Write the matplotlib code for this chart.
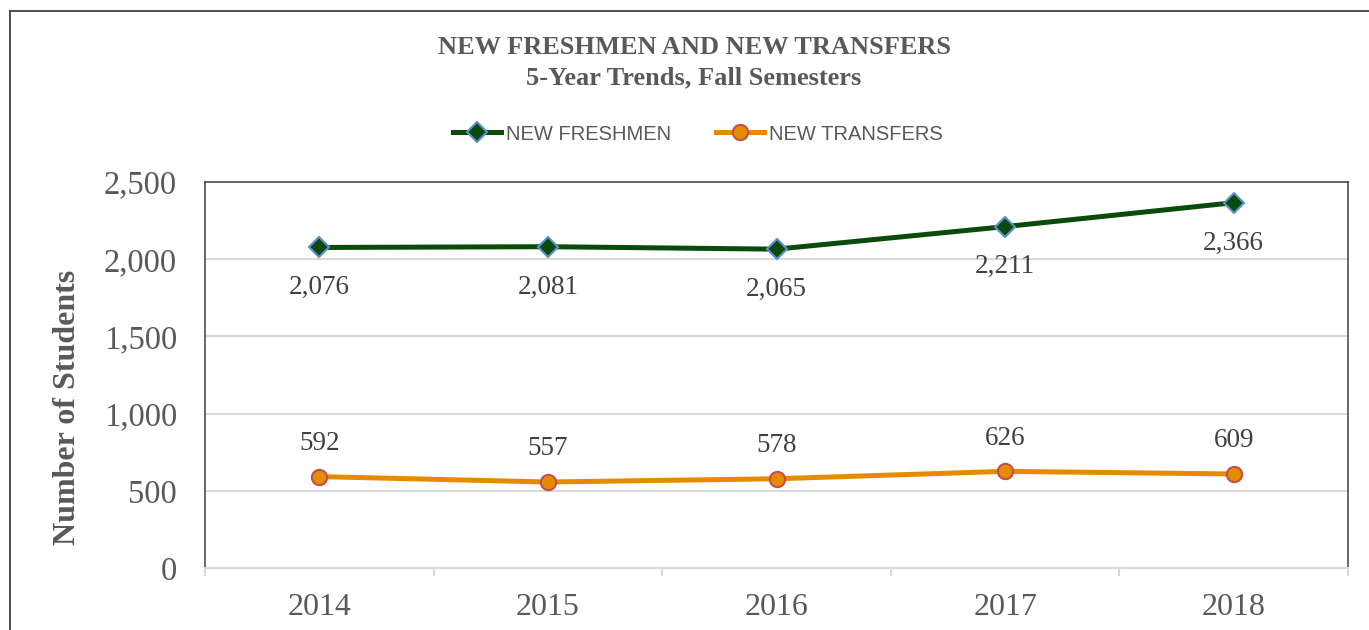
import matplotlib
matplotlib.use("Agg")
import matplotlib.pyplot as plt
from matplotlib.lines import Line2D
from matplotlib.ticker import FixedLocator, FuncFormatter

years = ["2014", "2015", "2016", "2017", "2018"]
freshmen = [2076, 2081, 2065, 2211, 2366]
transfers = [592, 557, 578, 626, 609]
y_ticks = [0, 500, 1000, 1500, 2000, 2500]

W, H = 1369, 630
GREEN = "#0A4A0A"
ORANGE = "#E68A00"
TXT = "#595959"
LBL = "#404040"
GRID = "#D9D9D9"
SERIF = "Liberation Serif"

fig = plt.figure(figsize=(W / 100, H / 100), dpi=100)
ax = fig.add_axes([205 / W, 1 - 568 / H, (1348 - 205) / W, (568 - 182) / H])

x = list(range(len(years)))
ax.plot(x, freshmen, color=GREEN, lw=3.6, marker="D", ms=10,
        mfc=GREEN, mec="#5B8FCF", mew=1.5, label="NEW FRESHMEN", zorder=3)
ax.plot(x, transfers, color=ORANGE, lw=3.6, marker="o", ms=11,
        mfc=ORANGE, mec="#C0504D", mew=1.5, label="NEW TRANSFERS", zorder=3)

for xi, v in zip(x, freshmen):
    ax.annotate(f"{v:,}", (xi, v), xytext=(0, -29), textcoords="offset points",
                ha="center", va="center", fontsize=19.5, family=SERIF, color=LBL)
for xi, v in zip(x, transfers):
    ax.annotate(f"{v:,}", (xi, v), xytext=(0, 24), textcoords="offset points",
                ha="center", va="center", fontsize=19.5, family=SERIF, color=LBL)

ax.set_xlim(-0.5, len(years) - 0.5)
ax.set_ylim(0, 2500)
ax.set_xticks(x)
ax.set_xticklabels(years)
ax.xaxis.set_minor_locator(FixedLocator([i - 0.5 for i in range(len(years) + 1)]))
ax.tick_params(axis="x", which="major", length=0, pad=18, labelsize=23, labelcolor=TXT)
ax.tick_params(axis="x", which="minor", length=6, width=1.5, color=GRID)
ax.set_yticks(y_ticks)
ax.yaxis.set_major_formatter(FuncFormatter(lambda v, p: f"{int(v):,}"))
ax.tick_params(axis="y", length=0, pad=20, labelsize=23.5, labelcolor=TXT)
for lab in ax.get_xticklabels() + ax.get_yticklabels():
    lab.set_family(SERIF)

ax.grid(axis="y", color=GRID, lw=1.5)
ax.set_axisbelow(True)
for side in ("left", "top", "right"):
    ax.spines[side].set_color("#404040")
    ax.spines[side].set_linewidth(1.1)
ax.spines["bottom"].set_color(GRID)
ax.spines["bottom"].set_linewidth(1.5)

fig.text(68 / W, 1 - 407 / H, "Number of Students", rotation=90, ha="center", va="center",
         fontsize=23, fontweight="bold", family=SERIF, color=TXT)
fig.text(694 / W, 1 - 47 / H, "NEW FRESHMEN AND NEW TRANSFERS", ha="center", va="center",
         fontsize=19, fontweight="bold", family=SERIF, color=TXT)
fig.text(694 / W, 1 - 78 / H, "5-Year Trends, Fall Semesters", ha="center", va="center",
         fontsize=19, fontweight="bold", family=SERIF, color=TXT)

leg = fig.legend(loc="center", bbox_to_anchor=(698 / W, 1 - 134 / H), ncol=2, frameon=False,
                 handlelength=2.4, handletextpad=0.25, columnspacing=2.2,
                 prop={"family": "Liberation Sans", "size": 14.5})
for t in leg.get_texts():
    t.set_color(TXT)

# outer chart border (runs off the right/bottom of the image)
fig.add_artist(Line2D([10 / W, 10 / W], [0, 1 - 11 / H], color="#404040", lw=1.3))
fig.add_artist(Line2D([10 / W, 1], [1 - 11 / H, 1 - 11 / H], color="#404040", lw=1.3))

fig.savefig("out.png", dpi=100)
